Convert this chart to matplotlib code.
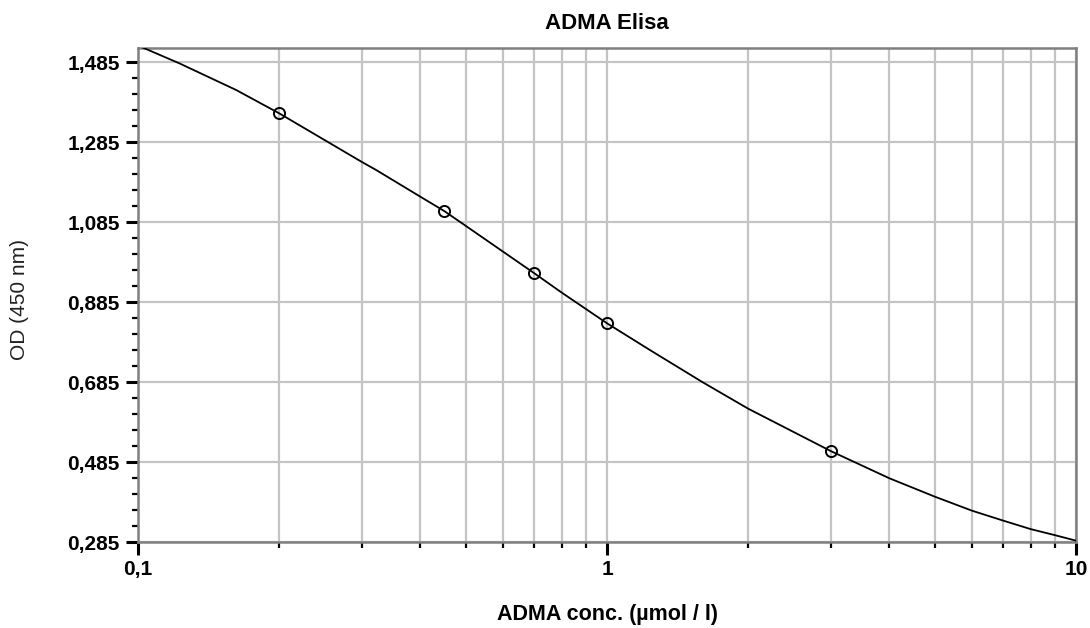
#!/usr/bin/env python3
# -*- coding: utf-8 -*-

import matplotlib
matplotlib.use("Agg")
import matplotlib.pyplot as plt
from matplotlib.ticker import FixedLocator, FixedFormatter, LogLocator, NullFormatter

# measured standards
conc = [0.2, 0.45, 0.7, 1.0, 3.0]
od = [1.3575, 1.113, 0.9575, 0.8325, 0.513]

# fitted curve (first point runs just past the top)
curve_x = [0.1, 0.1225, 0.1618, 0.2, 0.3, 0.3217, 0.4, 0.45, 0.5, 0.7, 0.8,
           1.0, 1.241, 1.6, 2.0, 3.0, 4.0, 5.0, 6.0, 7.0, 8.0, 9.0, 10.0]
curve_y = [1.527, 1.4825, 1.416, 1.3575, 1.236, 1.216, 1.149, 1.113, 1.076,
           0.9575, 0.9095, 0.8325, 0.764, 0.685, 0.619, 0.513, 0.445, 0.399,
           0.364, 0.339, 0.318, 0.303, 0.289]

xticks = [0.1, 1, 10]
xticklabels = ["0,1", "1", "10"]
yticks = [0.285, 0.485, 0.685, 0.885, 1.085, 1.285, 1.485]
yticklabels = ["0,285", "0,485", "0,685", "0,885", "1,085", "1,285", "1,485"]
yminor = [0.325, 0.365, 0.405, 0.445, 0.525, 0.565, 0.605, 0.645,
          0.725, 0.765, 0.805, 0.845, 0.925, 0.965, 1.005, 1.045,
          1.125, 1.165, 1.205, 1.245, 1.325, 1.365, 1.405, 1.445]

plt.rcParams['font.family'] = ['Liberation Sans', 'DejaVu Sans']

fig = plt.figure(figsize=(10.9, 6.28), dpi=100)
ax = fig.add_axes([0.1266, 0.1365, 0.8606, 0.7875])

ax.set_xscale('log')
ax.set_xlim(0.1, 10)
ax.set_ylim(0.285, 1.5215)

ax.plot(curve_x, curve_y, color='black', lw=1.3, zorder=3)
ax.plot(conc, od, ls='none', marker='o', ms=8, mfc='none', mec='black',
        mew=1.4, zorder=4)

ax.xaxis.set_major_locator(FixedLocator(xticks))
ax.xaxis.set_major_formatter(FixedFormatter(xticklabels))
ax.xaxis.set_minor_locator(LogLocator(base=10, subs=range(2, 10)))
ax.xaxis.set_minor_formatter(NullFormatter())
ax.yaxis.set_major_locator(FixedLocator(yticks))
ax.yaxis.set_major_formatter(FixedFormatter(yticklabels))
ax.yaxis.set_minor_locator(FixedLocator(yminor))

ax.grid(True, which='both', axis='x', color='#c4c4c4', lw=1.6, zorder=0)
ax.grid(True, which='major', axis='y', color='#c4c4c4', lw=1.6, zorder=0)
ax.set_axisbelow(True)

for s in ax.spines.values():
    s.set_color('#808080')
    s.set_linewidth(1.8)

ax.tick_params(which='major', length=9, width=2.2, color='black',
               labelsize=15, pad=4)
ax.tick_params(which='minor', length=4, width=1.6, color='black')
for lab in ax.get_xticklabels() + ax.get_yticklabels():
    lab.set_fontweight('bold')

ax.text(0.5, 1.05, "ADMA Elisa", transform=ax.transAxes, ha='center',
        va='center', fontsize=16, fontweight='bold')
ax.set_xlabel("ADMA conc. (µmol / l)", fontsize=15.5, fontweight='bold')
ax.xaxis.set_label_coords(0.5, -0.147)
ax.xaxis.label.set_va('center')
ax.set_ylabel("OD (450 nm)", fontsize=15, color='#222222')
ax.yaxis.set_label_coords(-0.126, 0.49)
ax.yaxis.label.set_va('center')

fig.savefig("out.png", dpi=100)
